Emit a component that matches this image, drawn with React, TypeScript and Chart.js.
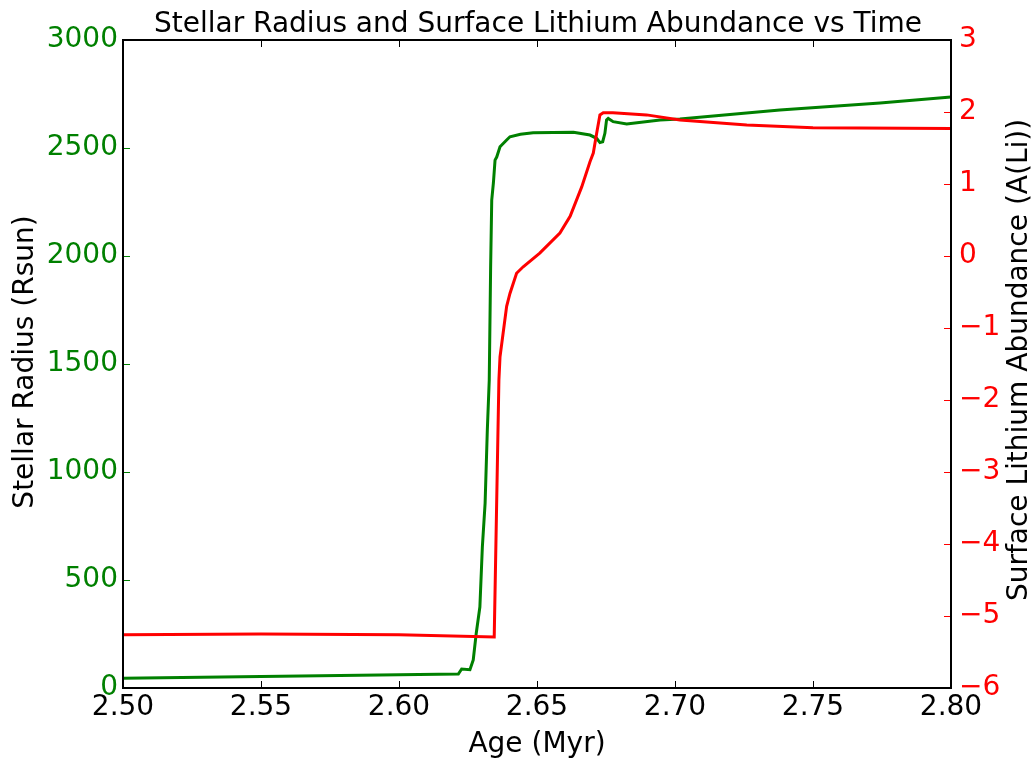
import React, { useEffect, useRef } from "react";
import { Chart, registerables } from "chart.js";

Chart.register(...registerables);

const radiusAge = [2.50, 2.55, 2.60, 2.6215, 2.6227, 2.6257, 2.6269, 2.6280, 2.6293, 2.6302, 2.6312, 2.6320, 2.6327, 2.6332, 2.6336, 2.6342, 2.6348, 2.6354, 2.6366, 2.6390, 2.6402, 2.6440, 2.6486, 2.6632, 2.6692, 2.6716, 2.6728, 2.6738, 2.6746, 2.6752, 2.6758, 2.6776, 2.6825, 2.6946, 2.7018, 2.738, 2.7743, 2.80];
const radiusValues = [45, 53, 61, 65, 88, 85, 130, 255, 375, 653, 856, 1194, 1426, 1949, 2259, 2338, 2444, 2458, 2506, 2537, 2552, 2564, 2571, 2573, 2560, 2545, 2525, 2529, 2568, 2630, 2637, 2622, 2611, 2630, 2634, 2676, 2708, 2736];

const lithiumAge = [2.50, 2.55, 2.60, 2.6345, 2.6362, 2.6366, 2.639, 2.6402, 2.6426, 2.645, 2.651, 2.6583, 2.662, 2.6662, 2.6692, 2.6704, 2.6716, 2.6728, 2.674, 2.6775, 2.6897, 2.7018, 2.726, 2.75, 2.80];
const lithiumValues = [-5.26, -5.25, -5.26, -5.29, -1.72, -1.40, -0.70, -0.52, -0.24, -0.15, 0.04, 0.32, 0.55, 0.96, 1.31, 1.43, 1.70, 1.96, 1.99, 1.99, 1.96, 1.89, 1.82, 1.78, 1.77];

const xTicks = [2.50, 2.55, 2.60, 2.65, 2.70, 2.75, 2.80];
const radiusTicks = [0, 500, 1000, 1500, 2000, 2500, 3000];
const lithiumTicks = [-6, -5, -4, -3, -2, -1, 0, 1, 2, 3];

const chartTitle = "Stellar Radius and Surface Lithium Abundance vs Time";
const xTitle = "Age (Myr)";
const leftTitle = "Stellar Radius (Rsun)";
const rightTitle = "Surface Lithium Abundance (A(Li))";

const GREEN = "#008000";
const RED = "#ff0000";
const FONT = "DejaVu Sans";
const FS = 28;

const W = 1033;
const H = 762;
const AREA = { left: 123, right: 951, top: 40, bottom: 688 };

const framePlugin = {
  id: "framePlugin",
  afterDatasetsDraw(chart: any) {
    const ctx = chart.ctx;
    const a = chart.chartArea;
    const sx = chart.scales.x;
    const sy = chart.scales.y;
    const sy1 = chart.scales.y1;
    const TL = 7;
    ctx.save();
    ctx.lineWidth = 1;
    ctx.strokeStyle = "#000";
    xTicks.forEach((v) => {
      const px = Math.round(sx.getPixelForValue(v)) + 0.5;
      ctx.beginPath();
      ctx.moveTo(px, a.bottom);
      ctx.lineTo(px, a.bottom - TL);
      ctx.moveTo(px, a.top);
      ctx.lineTo(px, a.top + TL);
      ctx.stroke();
    });
    ctx.strokeStyle = GREEN;
    radiusTicks.forEach((v) => {
      const py = Math.round(sy.getPixelForValue(v)) + 0.5;
      ctx.beginPath();
      ctx.moveTo(a.left, py);
      ctx.lineTo(a.left + TL, py);
      ctx.stroke();
    });
    ctx.strokeStyle = RED;
    lithiumTicks.forEach((v) => {
      const py = Math.round(sy1.getPixelForValue(v)) + 0.5;
      ctx.beginPath();
      ctx.moveTo(a.right, py);
      ctx.lineTo(a.right - TL, py);
      ctx.stroke();
    });
    ctx.lineWidth = 2;
    ctx.strokeStyle = "#000";
    ctx.strokeRect(a.left, a.top, a.right - a.left, a.bottom - a.top);

    ctx.fillStyle = "#000";
    ctx.font = `${FS}px "${FONT}"`;
    ctx.textAlign = "center";
    ctx.textBaseline = "alphabetic";
    const cx = (a.left + a.right) / 2;
    ctx.fillText(chartTitle, cx + 1, 32);
    ctx.fillText(xTitle, cx, 752);
    ctx.save();
    ctx.translate(33, 362);
    ctx.rotate(-Math.PI / 2);
    ctx.fillText(leftTitle, 0, 0);
    ctx.restore();
    ctx.save();
    ctx.translate(1027, 360);
    ctx.rotate(-Math.PI / 2);
    ctx.fillText(rightTitle, 0, 0);
    ctx.restore();
    ctx.restore();
  },
};

export default function App() {
  const ref = useRef<HTMLCanvasElement | null>(null);
  useEffect(() => {
    if (!ref.current) return;
    const chart = new Chart(ref.current, {
      type: "line",
      data: {
        datasets: [
          {
            label: "A(Li)",
            data: lithiumAge.map((x, i) => ({ x, y: lithiumValues[i] })),
            borderColor: RED,
            backgroundColor: RED,
            borderWidth: 3,
            pointRadius: 0,
            tension: 0,
            yAxisID: "y1",
            order: 0,
          },
          {
            label: "Radius",
            data: radiusAge.map((x, i) => ({ x, y: radiusValues[i] })),
            borderColor: GREEN,
            backgroundColor: GREEN,
            borderWidth: 3,
            pointRadius: 0,
            tension: 0,
            yAxisID: "y",
            order: 1,
          },
        ],
      },
      options: {
        responsive: false,
        animation: false,
        events: [],
        layout: { padding: { top: AREA.top, left: 0, right: 0, bottom: 0 } },
        plugins: { legend: { display: false }, tooltip: { enabled: false }, title: { display: false } },
        scales: {
          x: {
            type: "linear",
            min: 2.5,
            max: 2.8,
            afterBuildTicks: (s: any) => { s.ticks = xTicks.map((v) => ({ value: v })); },
            afterFit: (s: any) => { s.height = H - AREA.bottom; },
            grid: { display: false, drawTicks: false },
            border: { display: false },
            ticks: {
              color: "#000",
              font: { family: FONT, size: FS },
              padding: 3,
              maxRotation: 0,
              autoSkip: false,
              callback: (v: any) => Number(v).toFixed(2),
            },
          },
          y: {
            type: "linear",
            position: "left",
            min: 0,
            max: 3000,
            afterBuildTicks: (s: any) => { s.ticks = radiusTicks.map((v) => ({ value: v })); },
            afterFit: (s: any) => { s.width = AREA.left; },
            grid: { display: false, drawTicks: false },
            border: { display: false },
            ticks: {
              color: GREEN,
              font: { family: FONT, size: FS },
              padding: 5,
              autoSkip: false,
              callback: (v: any) => String(v),
            },
          },
          y1: {
            type: "linear",
            position: "right",
            min: -6,
            max: 3,
            afterBuildTicks: (s: any) => { s.ticks = lithiumTicks.map((v) => ({ value: v })); },
            afterFit: (s: any) => { s.width = W - AREA.right; },
            grid: { display: false, drawTicks: false },
            border: { display: false },
            ticks: {
              color: RED,
              font: { family: FONT, size: FS },
              padding: 8,
              autoSkip: false,
              callback: (v: any) => (v < 0 ? "\u2212" + Math.abs(v) : String(v)),
            },
          },
        },
      },
      plugins: [framePlugin],
    } as any);
    return () => chart.destroy();
  }, []);
  return (
    <div style={{ position: "absolute", left: 0, top: 0, width: W, height: H, background: "#fff" }}>
      <canvas ref={ref} width={W} height={H} style={{ display: "block" }} />
    </div>
  );
}
